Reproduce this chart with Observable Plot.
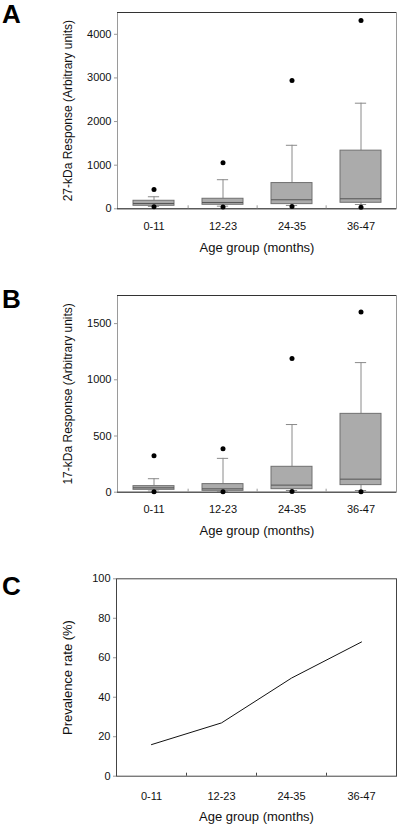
<!DOCTYPE html>
<html>
<head>
<meta charset="utf-8">
<script src="https://cdn.jsdelivr.net/npm/d3@7"></script>
<script src="https://cdn.jsdelivr.net/npm/@observablehq/plot@0.6"></script>
<style>
  html, body { margin: 0; padding: 0; background: #fff; }
  #page { position: relative; width: 400px; height: 826px; overflow: hidden; font-family: Arial, "Liberation Sans", sans-serif; }
  .panel { position: absolute; left: 0; }
  .letter { position: absolute; left: 2px; font-weight: bold; font-size: 26px; line-height: 1; color: #000; font-family: Arial, "Liberation Sans", sans-serif; }
</style>
</head>
<body>
<div id="page"></div>
<script>
// ---- data ----
const categories = ["0-11", "12-23", "24-35", "36-47"];

// Panel A: 27-kDa response
const q1A = [69, 92, 107, 138];
const medA = [122, 145, 207, 230];
const q3A = [184, 230, 590, 1333];
const whiskerLoA = [55, 60, 77, 99];
const whiskerHiA = [276, 667, 1456, 2421];
const outLoA = [46, 40, 54, 38];
const outHiA = [444, 1057, 2943, 4314];
const ticksA = [0, 1000, 2000, 3000, 4000];
const yMaxA = 4500;

// Panel B: 17-kDa response
const q1B = [21, 12, 27, 63];
const medB = [39, 30, 63, 116];
const q3B = [54, 72, 226, 697];
const whiskerLoB = [10, 6, 15, 15];
const whiskerHiB = [120, 301, 602, 1153];
const outLoB = [3, 3, 6, 3];
const outHiB = [325, 387, 1189, 1603];
const ticksB = [0, 500, 1000, 1500];
const yMaxB = 1750;

// Panel C: prevalence
const prevalence = [16, 27, 49.7, 68];
const ticksC = [0, 20, 40, 60, 80, 100];
const yMaxC = 100;

const xTitle = "Age group (months)";
const yTitleA = "27-kDa Response (Arbitrary units)";
const yTitleB = "17-kDa Response (Arbitrary units)";
const yTitleC = "Prevalence rate (%)";

// ---- layout ----
const W = 400, ML = 117, MR = 4;
const bw = (W - ML - MR) / categories.length;
const font = "Arial, 'Liberation Sans', sans-serif";

function boxData(q1, med, q3, wlo, whi, olo, ohi) {
  return categories.map((c, i) => ({cat: c, q1: q1[i], med: med[i], q3: q3[i], wlo: wlo[i], whi: whi[i], olo: olo[i], ohi: ohi[i]}));
}

function boundaryTicks(h, mt, mb, color, bwidth) {
  return Plot.ruleX(categories.slice(1), {x: d => d, dx: -bwidth / 2, stroke: color, insetTop: (h - mt - mb) - 3});
}

function boxPlot(opts) {
  const {data, ticks, yMax, yTitle, h, mt, mb} = opts;
  const marks = [
    Plot.frame({stroke: "#9a9a9a"}),
    Plot.ruleY([yMax], {stroke: "#333"}),
    Plot.ruleY([0], {stroke: "#333"}),
    boundaryTicks(h, mt, mb, "#999", bw),
    Plot.axisY(ticks, {tickSize: 3, tickPadding: 3, stroke: "#999", fill: "#111", fontSize: 11, label: null, tickFormat: d => String(d)}),
    Plot.axisX({tickSize: 0, tickPadding: 13, fill: "#111", fontSize: 11, label: null}),
    Plot.text([yTitle], {text: d => d, frameAnchor: "left", textAnchor: "middle", lineAnchor: "middle", rotate: -90, dx: -49, fontSize: 12, fill: "#111"}),
    Plot.text([xTitle], {text: d => d, frameAnchor: "bottom", textAnchor: "middle", lineAnchor: "middle", dy: 39, fontSize: 13, fill: "#111"}),
    // whiskers
    Plot.ruleX(data, {x: "cat", y1: "q3", y2: "whi", stroke: "#8a8a8a"}),
    Plot.ruleX(data, {x: "cat", y1: "wlo", y2: "q1", stroke: "#8a8a8a"}),
    Plot.tickY(data, {x: "cat", y: "whi", stroke: "#8a8a8a", insetLeft: (bw - 12) / 2, insetRight: (bw - 12) / 2}),
    Plot.tickY(data, {x: "cat", y: "wlo", stroke: "#8a8a8a", insetLeft: (bw - 12) / 2, insetRight: (bw - 12) / 2}),
    // boxes
    Plot.barY(data, {x: "cat", y1: "q1", y2: "q3", fill: "#ababab", stroke: "#707070", strokeWidth: 1, insetLeft: 14, insetRight: 14}),
    Plot.tickY(data, {x: "cat", y: "med", stroke: "#555", strokeWidth: 1, insetLeft: 14, insetRight: 14}),
    // outliers
    Plot.dot(data, {x: "cat", y: "ohi", r: 2.5, fill: "#000", stroke: null}),
    Plot.dot(data, {x: "cat", y: "olo", r: 2.5, fill: "#000", stroke: null})
  ];
  return Plot.plot({
    width: W, height: h, marginTop: mt, marginBottom: mb, marginLeft: ML, marginRight: MR,
    style: {fontFamily: font, background: "transparent", overflow: "visible"},
    x: {type: "band", domain: categories, padding: 0, axis: null},
    y: {domain: [0, yMax], axis: null},
    marks
  });
}

const page = document.getElementById("page");
function place(node, top) {
  const d = document.createElement("div");
  d.className = "panel";
  d.style.top = top + "px";
  d.appendChild(node);
  page.appendChild(d);
}
function letter(t, top) {
  const d = document.createElement("div");
  d.className = "letter";
  d.style.top = top + "px";
  d.textContent = t;
  page.appendChild(d);
}

// Panel A
place(boxPlot({
  data: boxData(q1A, medA, q3A, whiskerLoA, whiskerHiA, outLoA, outHiA),
  ticks: ticksA, yMax: yMaxA, yTitle: yTitleA, h: 275, mt: 12, mb: 66.7
}), 0);

// Panel B
place(boxPlot({
  data: boxData(q1B, medB, q3B, whiskerLoB, whiskerHiB, outLoB, outHiB),
  ticks: ticksB, yMax: yMaxB, yTitle: yTitleB, h: 275, mt: 15, mb: 63.3
}), 280);

// Panel C
const hC = 271, mtC = 23.3, mbC = 50.3, MLC = ML - 1;
const bwC = (W - MLC - MR) / categories.length;
const dataC = categories.map((c, i) => ({cat: c, v: prevalence[i]}));
place(Plot.plot({
  width: W, height: hC, marginTop: mtC, marginBottom: mbC, marginLeft: MLC, marginRight: MR,
  style: {fontFamily: font, background: "transparent", overflow: "visible"},
  x: {type: "band", domain: categories, padding: 0, axis: null},
  y: {domain: [0, yMaxC], axis: null},
  marks: [
    Plot.frame({stroke: "#444"}),
    boundaryTicks(hC, mtC, mbC, "#444", bwC),
    Plot.axisY(ticksC, {tickSize: 3, tickPadding: 3, stroke: "#999", fill: "#111", fontSize: 11, label: null}),
    Plot.axisX({tickSize: 0, tickPadding: 16, fill: "#111", fontSize: 11, label: null}),
    Plot.text([yTitleC], {text: d => d, frameAnchor: "left", textAnchor: "middle", lineAnchor: "middle", rotate: -90, dx: -49, fontSize: 13, fill: "#111"}),
    Plot.text([xTitle], {text: d => d, frameAnchor: "bottom", textAnchor: "middle", lineAnchor: "middle", dy: 41, fontSize: 13, fill: "#111"}),
    Plot.line(dataC, {x: "cat", y: "v", stroke: "#111", strokeWidth: 1})
  ]
}), 555);

letter("A", 1);
letter("B", 286);
letter("C", 573);
</script>
</body>
</html>
